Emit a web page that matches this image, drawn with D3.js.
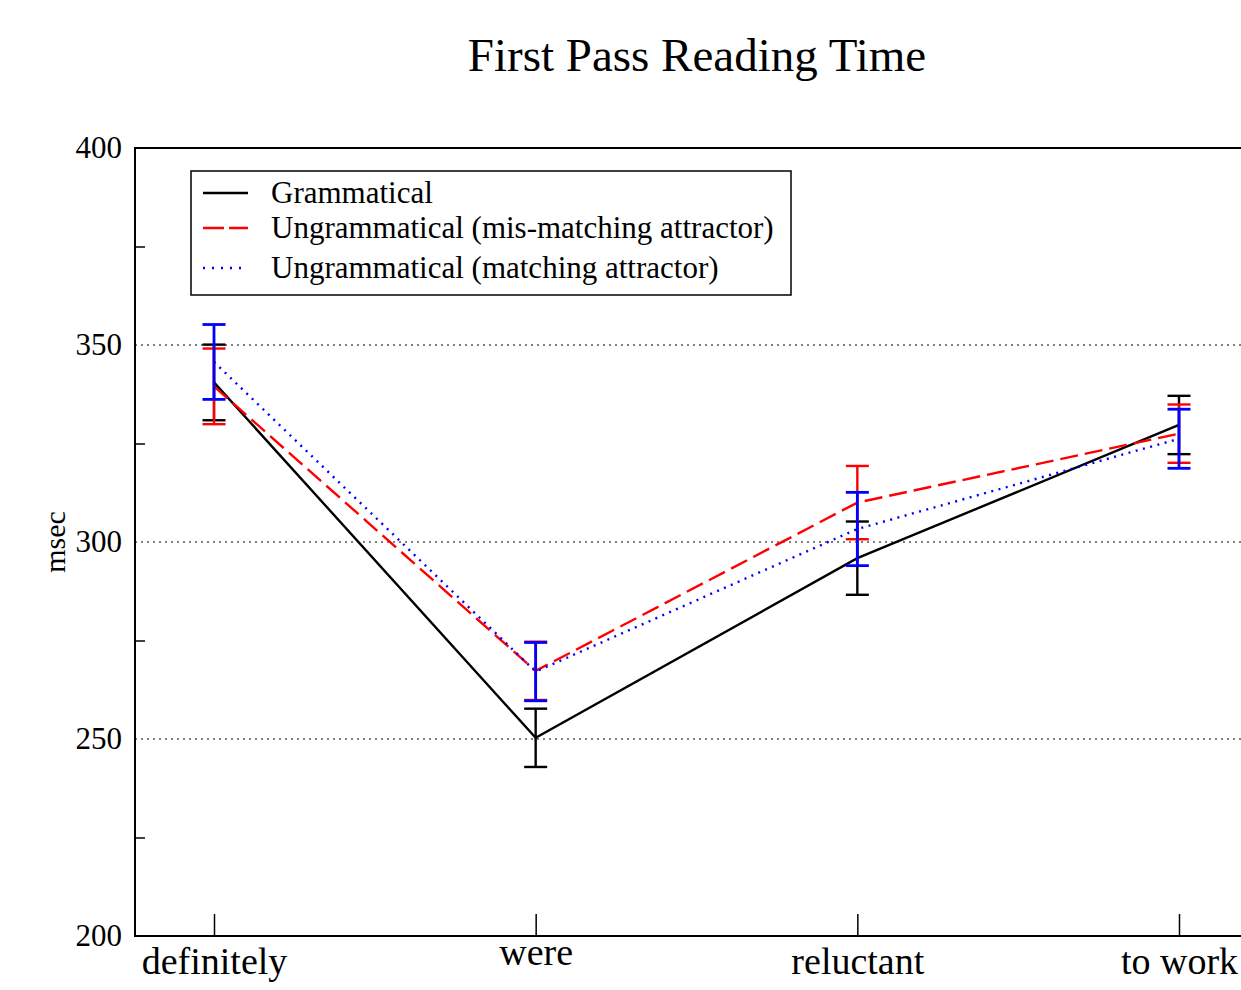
<!DOCTYPE html>
<html lang="en">
<head>
    <meta charset="utf-8">
    <title>First Pass Reading Time</title>
    <script type="text/javascript" src="https://d3js.org/d3.v7.min.js"></script>
    <style type="text/css">
        body { margin: 0; background: #fff; }
        svg text { font-family: "Liberation Serif", "Times New Roman", serif; fill: #000; }
    </style>
</head>
<body>
    <script type="text/javascript">

        // data
        const regions = ["definitely", "were", "reluctant", "to work"];
        const seriesNames = ["Grammatical", "Ungrammatical (mis-matching attractor)", "Ungrammatical (matching attractor)"];
        const grammatical = [340.5, 250.3, 295.9, 329.7];
        const grammaticalErr = [9.6, 7.4, 9.3, 7.4];
        const misMatching = [339.5, 267.3, 310.0, 327.5];
        const misMatchingErr = [9.6, 7.4, 9.3, 7.4];
        const matching = [345.7, 267.1, 303.3, 326.2];
        const matchingErr = [9.5, 7.4, 9.3, 7.5];
        const yMajorTicks = [200, 250, 300, 350, 400];
        const yMinorTicks = [225, 275, 325, 375];
        const gridValues = [250, 300, 350];

        const width = 1241;
        const height = 990;
        const plot = { left: 135, right: 1260, top: 148, bottom: 936 };

        const series = [
            { name: seriesNames[0], values: grammatical, err: grammaticalErr, color: "#000", dash: null },
            { name: seriesNames[1], values: misMatching, err: misMatchingErr, color: "#ff0000", dash: "18,7" },
            { name: seriesNames[2], values: matching, err: matchingErr, color: "#0000ff", dash: "2,5.5" }
        ];

        // Scales
        const xScale = d3.scalePoint()
            .domain(regions)
            .range([214, 1179]);

        const yScale = d3.scaleLinear()
            .domain([200, 400])
            .range([plot.bottom, plot.top]);

        const svg = d3.select("body")
            .append("svg")
            .attr("width", width)
            .attr("height", height);

        // title
        svg.append("text")
            .attr("x", 697)
            .attr("y", 71)
            .attr("text-anchor", "middle")
            .style("font-size", "47px")
            .text("First Pass Reading Time");

        // grid lines
        svg.append("g")
            .selectAll("line")
            .data(gridValues)
            .enter()
            .append("line")
            .attr("x1", plot.left)
            .attr("x2", plot.right)
            .attr("y1", d => yScale(d))
            .attr("y2", d => yScale(d))
            .attr("stroke", "#000")
            .attr("stroke-width", 1.2)
            .attr("stroke-dasharray", "2,4");

        // y axis labels
        const yAxis = svg.append("g")
            .attr("transform", `translate(${plot.left},0)`)
            .call(d3.axisLeft(yScale).tickValues(yMajorTicks).tickSize(0).tickPadding(13).tickFormat(d3.format("d")));
        yAxis.select(".domain").remove();
        yAxis.selectAll("text")
            .style("font-size", "31px")
            .attr("font-family", null);

        // minor ticks
        const yMinor = svg.append("g")
            .attr("transform", `translate(${plot.left},0)`)
            .call(d3.axisLeft(yScale).tickValues(yMinorTicks).tickSize(-10).tickFormat(""));
        yMinor.select(".domain").remove();
        yMinor.selectAll("line").attr("stroke-width", 1.5);

        // x axis
        const xAxis = svg.append("g")
            .attr("transform", `translate(0,${plot.bottom})`)
            .call(d3.axisBottom(xScale).tickSize(-22).tickPadding(0));
        xAxis.select(".domain").remove();
        xAxis.selectAll("line").attr("stroke-width", 1.5);
        xAxis.selectAll("text")
            .attr("font-family", null)
            .style("font-size", "38px")
            .attr("dy", null)
            .attr("y", d => /[bdfhklt]/.test(d) ? 38 : 29);

        // frame
        svg.append("line")
            .attr("x1", plot.left).attr("x2", plot.right)
            .attr("y1", plot.top).attr("y2", plot.top)
            .attr("stroke", "#000").attr("stroke-width", 1.8);
        svg.append("line")
            .attr("x1", plot.left).attr("x2", plot.right)
            .attr("y1", plot.bottom).attr("y2", plot.bottom)
            .attr("stroke", "#000").attr("stroke-width", 2);
        svg.append("line")
            .attr("x1", plot.left).attr("x2", plot.left)
            .attr("y1", plot.top - 1).attr("y2", plot.bottom + 1)
            .attr("stroke", "#000").attr("stroke-width", 2);

        // lines
        const line = d3.line()
            .x((d, i) => xScale(regions[i]))
            .y(d => yScale(d));

        series.forEach(s => {
            svg.append("path")
                .datum(s.values)
                .attr("d", line)
                .attr("fill", "none")
                .attr("stroke", s.color)
                .attr("stroke-width", 2.4)
                .attr("stroke-dasharray", s.dash);
        });

        // error bars
        const capHalf = 11.5;
        series.forEach((s, k) => {
            const g = svg.append("g")
                .attr("stroke", s.color)
                .attr("stroke-width", k === 2 ? 2.8 : 2.4);
            s.values.forEach((v, i) => {
                const x = xScale(regions[i]);
                const top = yScale(v + s.err[i]);
                const bot = yScale(v - s.err[i]);
                g.append("line").attr("x1", x).attr("x2", x).attr("y1", top).attr("y2", bot);
                g.append("line").attr("x1", x - capHalf).attr("x2", x + capHalf).attr("y1", top).attr("y2", top);
                g.append("line").attr("x1", x - capHalf).attr("x2", x + capHalf).attr("y1", bot).attr("y2", bot);
            });
        });

        // y label
        svg.append("text")
            .attr("transform", "translate(65,542) rotate(-90)")
            .attr("text-anchor", "middle")
            .style("font-size", "30px")
            .text("msec");

        // legend
        const legend = svg.append("g");
        legend.append("rect")
            .attr("x", 191)
            .attr("y", 171)
            .attr("width", 600)
            .attr("height", 124)
            .attr("fill", "#fff")
            .attr("stroke", "#000")
            .attr("stroke-width", 1.5);

        const rowY = [193, 228, 268];
        series.forEach((s, i) => {
            legend.append("line")
                .attr("x1", 203).attr("x2", 248)
                .attr("y1", rowY[i]).attr("y2", rowY[i])
                .attr("stroke", s.color)
                .attr("stroke-width", 2.4)
                .attr("stroke-dasharray", s.dash === "2,5.5" ? "2,7" : (s.dash ? "21,5" : null));
            legend.append("text")
                .attr("x", 271)
                .attr("y", rowY[i] + 10)
                .style("font-size", "31px")
                .text(s.name);
        });
    </script>
</body>
</html>
